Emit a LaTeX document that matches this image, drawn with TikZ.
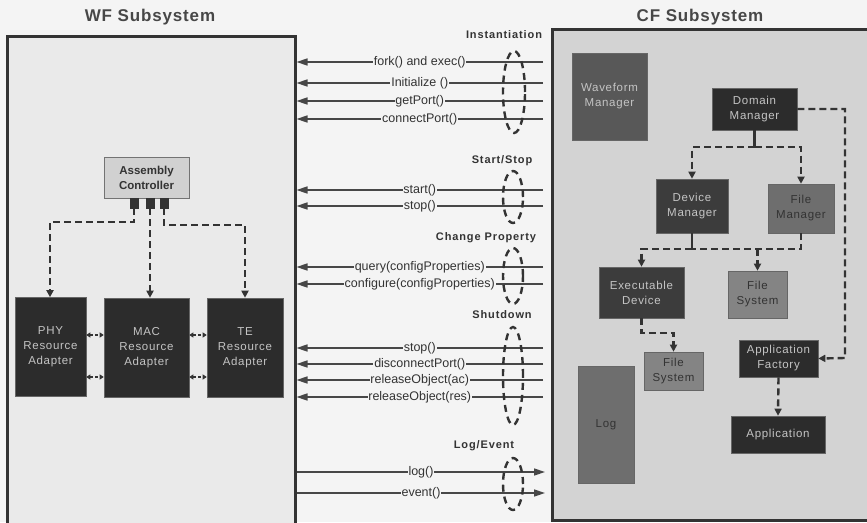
\documentclass[tikz,border=0pt]{standalone}
\usepackage{fontspec}
\setmainfont{Liberation Sans}
\newfontfamily\boxfont[LetterSpace=6]{Liberation Sans}
\newfontfamily\grpfont[LetterSpace=8]{Liberation Sans}
\newfontfamily\ttlfont[LetterSpace=5]{Liberation Sans}
\usetikzlibrary{arrows.meta,shapes.geometric}
\definecolor{bgc}{HTML}{F4F4F4}
\definecolor{wfc}{HTML}{EAEAEA}
\definecolor{cfc}{HTML}{D3D3D3}
\definecolor{ink}{HTML}{333333}
\definecolor{darkbox}{HTML}{2C2C2C}
\definecolor{midbox}{HTML}{3C3C3C}
\definecolor{greybox}{HTML}{6E6E6E}
\definecolor{wmbox}{HTML}{585858}
\definecolor{lighttext}{HTML}{C4C4C4}
\tikzset{
  panel/.style={draw=ink,line width=3pt,rectangle,inner sep=0pt},
  title/.style={font=\ttlfont\fontsize{17}{20}\selectfont\bfseries,text=ink!90},
  grp/.style={font=\grpfont\fontsize{11}{13}\selectfont\bfseries,text=ink},
  call/.style={line width=1.6pt,draw=ink!90,-{Triangle[length=11pt,width=7pt]}},
  lab/.style={font=\fontsize{12.5}{14}\selectfont,text=ink,fill=bgc,inner sep=0.8pt},
  ring/.style={draw=ink,line width=2.4pt,dash pattern=on 7pt off 5pt,ellipse,inner sep=0pt},
  blk/.style={rectangle,inner sep=1pt,align=center,font=\boxfont\fontsize{11.5}{15}\selectfont,text=lighttext,draw=black!60,line width=0.6pt},
  dline/.style={draw=ink,line width=2.4pt,dash pattern=on 7pt off 4pt},
  dar/.style={dline,-{Triangle[length=7pt,width=7pt]}},
  sline/.style={draw=ink,line width=2.4pt},
  port/.style={fill=ink,draw=ink,minimum width=8pt,minimum height=10pt,inner sep=0pt},
  small/.style={draw=ink,line width=1.4pt,dash pattern=on 3pt off 2pt,{Triangle[length=4pt,width=5pt]}-{Triangle[length=4pt,width=5pt]}}
}
\begin{document}
\begin{tikzpicture}[x=1pt,y=-1pt]
\useasboundingbox (0,0) rectangle (867,522);
\clip (0,0) rectangle (867,522);
\fill[bgc] (0,0) rectangle (867,522);

% panels
\node[panel,fill=wfc,minimum width=288pt,minimum height=500pt] (wf) at (151,286) {};
\node[panel,fill=cfc,minimum width=320pt,minimum height=491pt] (cf) at (712,274.5) {};
\node[title] (wft) at (150,17) {WF Subsystem};
\node[title] (cft) at (700,17) {CF Subsystem};

% ---------- WF internals
\node[rectangle,draw=black!55,fill=black!18,line width=0.8pt,minimum width=85pt,minimum height=41pt,align=center,
      font=\fontsize{11.5}{15}\selectfont\bfseries,text=ink] (ac) at (146.5,177.5) {Assembly\\Controller};
\node[port] (p1) at (134,203) {};
\node[port] (p2) at (150,203) {};
\node[port] (p3) at (164,203) {};

\node[blk,fill=darkbox,minimum width=71pt,minimum height=99pt] (phy) at (50.5,347) {PHY\\Resource\\Adapter};
\node[blk,fill=darkbox,minimum width=85pt,minimum height=99pt] (mac) at (146.5,347.5) {MAC\\Resource\\Adapter};
\node[blk,fill=darkbox,minimum width=76pt,minimum height=99pt] (te) at (245,347.5) {TE\\Resource\\Adapter};

\draw[dar] (p1.south) |- (50,222) -- (phy.north -| 50,0);
\draw[dar] (p2.south) -- (p2.south |- mac.north);
\draw[dar] (p3.south) |- (245,225) -- (te.north);

\draw[small] (phy.east |- 0,335) -- (mac.west |- 0,335);
\draw[small] (phy.east |- 0,377) -- (mac.west |- 0,377);
\draw[small] (mac.east |- 0,335) -- (te.west |- 0,335);
\draw[small] (mac.east |- 0,377) -- (te.west |- 0,377);

% ---------- calls
\foreach \y/\t/\n in {62/{fork() and exec()}/a1, 83/{Initialize ()}/a2, 101/{getPort()}/a3, 119/{connectPort()}/a4,
  190/{start()}/b1, 206/{stop()}/b2,
  267/{query(configProperties)}/c1, 284/{configure(configProperties)}/c2,
  348/{stop()}/d1, 364/{disconnectPort()}/d2, 380/{releaseObject(ac)}/d3, 397/{releaseObject(res)}/d4}{
  \coordinate (\n) at (543,\y);
  \draw[call] (\n) -- node[lab] {\t} (\n -| wf.east);
}
\foreach \y/\t/\n in {472/{log()}/e1, 493/{event()}/e2}{
  \coordinate (\n) at (297,\y);
  \draw[call] (\n) -- node[lab] {\t} (545,\y);
}

% groups
\node[grp] (g1) at (504,35) {Instantiation};
\node[ring,minimum width=22pt,minimum height=82pt] (r1) at (514,92) {};
\node[grp] (g2) at (502,161) {Start/Stop};
\node[ring,minimum width=20pt,minimum height=52pt] (r2) at (513,197) {};
\node[grp] (g3) at (486,238) {Change Property};
\node[ring,minimum width=20pt,minimum height=56pt] (r3) at (513,276) {};
\node[grp] (g4) at (502,315) {Shutdown};
\node[ring,minimum width=20pt,minimum height=98pt] (r4) at (513,376) {};
\node[grp] (g5) at (484,446) {Log/Event};
\node[ring,minimum width=20pt,minimum height=52pt] (r5) at (513,484) {};

% ---------- CF internals
\node[blk,fill=wmbox,minimum width=75pt,minimum height=87pt,anchor=north west] (wm) at (572,53) {};
\node[font=\boxfont\fontsize{11.5}{15}\selectfont,text=lighttext,align=center] (wmt) at (609.5,96) {Waveform\\Manager};
\node[blk,fill=darkbox,minimum width=85pt,minimum height=42pt] (dm) at (754.5,109) {Domain\\Manager};
\node[blk,fill=midbox,minimum width=72pt,minimum height=54pt] (dev) at (692,206) {Device\\Manager};
\node[blk,fill=greybox,text=ink,minimum width=66pt,minimum height=49pt] (fm) at (801,208.5) {File\\Manager};
\node[blk,fill=midbox,minimum width=85pt,minimum height=51pt] (ed) at (641.5,292.5) {Executable\\Device};
\node[blk,fill=greybox!85,text=ink,minimum width=59pt,minimum height=47pt] (fs1) at (757.5,294.5) {File\\System};
\node[blk,fill=greybox!85,text=ink,minimum width=59pt,minimum height=38pt] (fs2) at (673.5,371) {File\\System};
\node[blk,fill=greybox,text=ink,minimum width=56pt,minimum height=117pt] (log) at (606,424.5) {Log};
\node[blk,fill=darkbox,minimum width=79pt,minimum height=37pt] (af) at (778.5,358.5) {Application\\Factory};
\node[blk,fill=darkbox,minimum width=94pt,minimum height=37pt] (app) at (778,434.5) {Application};

\coordinate (dmj) at (754.5,147);
\draw[sline] (dm.south) -- (dmj);
\draw[dar] (dmj) -| (dev.north);
\draw[dar] (dmj) -| (fm.north);
\coordinate (devj) at (692,249);
\draw[sline] (dev.south) -- (devj);
\draw[dline] (fm.south) |- (devj);
\draw[dar] (devj) -| (ed.north);
\draw[dar] (757.5,249) -- (fs1.north);
\draw[dar] (ed.south) |- (673.5,333) -- (fs2.north);
\draw[dar] (dm.east) -| (845,358) -- (af.east);
\draw[dar] (af.south) -- (app.north);
\end{tikzpicture}
\end{document}
